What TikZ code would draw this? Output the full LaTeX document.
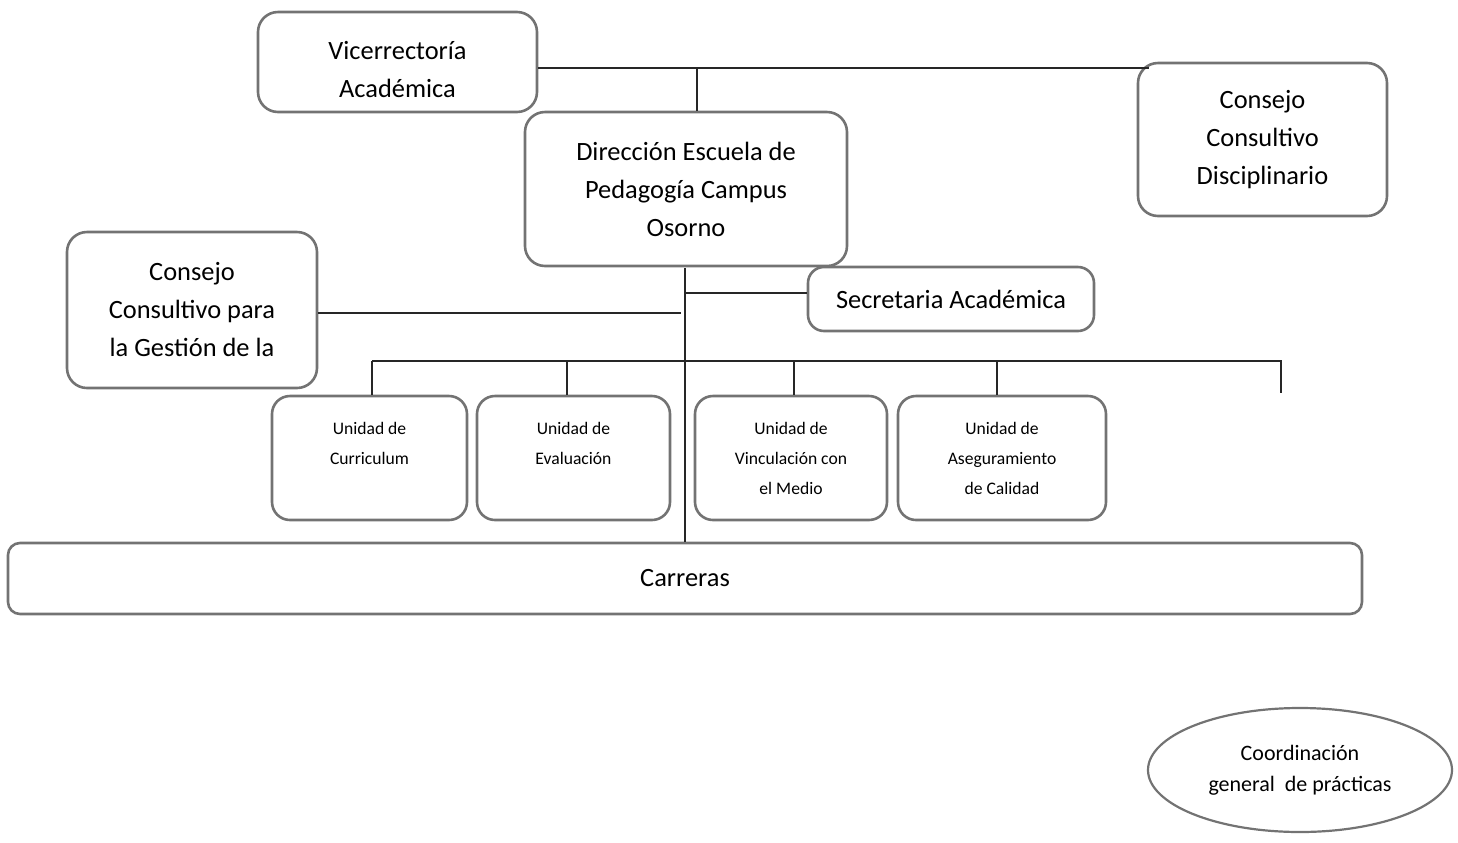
\documentclass[tikz,border=0pt]{standalone}
\usepackage{fontspec}
\setmainfont{Carlito}
\usetikzlibrary{shapes.geometric}
\usetikzlibrary{positioning}

\begin{document}
\begin{tikzpicture}[x=0.5pt,y=-0.5pt]
			\tikzset{unitBig/.style = {shape=rectangle,draw=black!55,line width=1.3pt,
					rounded corners=10pt,align=center,inner sep=0pt,
					font=\fontsize{13.2}{19}\selectfont}}
			\tikzset{unitSmall/.style = {shape=rectangle,draw=black!55,line width=1.3pt,
					rounded corners=9pt,align=center,inner sep=0pt,
					minimum width=96pt,minimum height=62pt,
					font=\fontsize{8.8}{15}\selectfont}}
			\tikzset{unitOval/.style = {shape=ellipse,draw=black!55,line width=1.1pt,
					align=center,inner sep=0pt,minimum width=152pt,minimum height=62pt,
					font=\fontsize{11}{15.5}\selectfont}}
			\tikzset{link/.style = {draw=black!85,line width=0.6pt}}
			\useasboundingbox (0,0) rectangle (1458,842);
			
			% vertices
			\node[unitBig,minimum width=139.5pt,minimum height=50pt] (vic) at (397.5,62)
				{\\[-2pt]Vicerrectoría\\Académica};
			\node[unitBig,minimum width=161pt,minimum height=77pt] (dir) at (686,189)
				{Dirección Escuela de\\Pedagogía Campus\\Osorno};
			\node[unitBig,minimum width=124.5pt,minimum height=76.5pt] (disc) at (1262.5,139.5)
				{Consejo\\Consultivo\\Disciplinario};
			\node[unitBig,minimum width=125pt,minimum height=78pt] (gest) at (192,310)
				{Consejo\\Consultivo para\\la Gestión de la};
			\node[unitBig,minimum width=143pt,minimum height=32pt,rounded corners=8pt] (sec) at (951,299)
				{Secretaria Académica};
			\node[unitSmall,minimum width=97.5pt] (curr) at (369.5,458) {Unidad de\\Curriculum\\\mbox{}};
			\node[unitSmall,minimum width=96.5pt] (eval) at (573.5,458) {Unidad de\\Evaluación\\\mbox{}};
			\node[unitSmall] (vinc) at (791,458) {Unidad de\\Vinculación con\\el Medio};
			\node[unitSmall,minimum width=104pt] (aseg) at (1002,458) {Unidad de\\Aseguramiento\\de Calidad};
			\node[unitBig,minimum width=677pt,minimum height=35.5pt,rounded corners=6pt] (carr) at (685,578.5)
				{Carreras};
			\node[unitOval] (coord) at (1300,770) {Coordinación\\general\ \ de prácticas};
			
			% junctions
			\coordinate (top) at (697,68);
			\coordinate (trunk) at (685,268);
			\coordinate (secY) at (685,293);
			\coordinate (gestEnd) at (681,313);
			\coordinate (bus) at (372,361);
			\coordinate (busEnd) at (1281,361);
			\coordinate (freeDrop) at (1281,393);
			
			%edges
			\draw[link] (vic.east |- top) -- ([xshift=6pt]disc.west |- top);
			\draw[link] (top) -- (top |- dir.north);
			\draw[link] (trunk) -- (trunk |- carr.north);
			\draw[link] (secY) -- (secY -| sec.west);
			\draw[link] (gest.east |- gestEnd) -- (gestEnd);
			\draw[link] (bus) -- (busEnd) -- (freeDrop);
			\draw[link] (bus) -- (bus |- curr.north);
			\draw[link] (567,361) -- (567,396 |- eval.north);
			\draw[link] (794,361) -- (794,396 |- vinc.north);
			\draw[link] (997,361) -- (997,396 |- aseg.north);
			
			\end{tikzpicture}
\end{document}
